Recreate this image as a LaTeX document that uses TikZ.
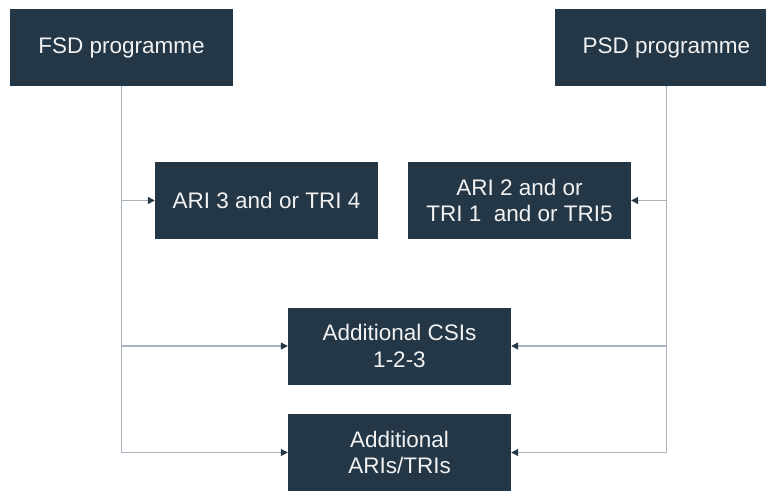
\documentclass[tikz,border=0pt]{standalone}
\usepackage{fontspec}
\setmainfont{Liberation Sans}
\usetikzlibrary{arrows.meta}

\definecolor{boxnavy}{HTML}{243746}
\definecolor{linegrey}{HTML}{A8B2BC}
\definecolor{boxtext}{HTML}{F2F2F2}

\tikzset{
    progbox/.style={fill=boxnavy, text=boxtext, minimum width=223pt, minimum height=77pt,
        inner sep=0pt, align=center, font=\fontsize{22.5}{26.5}\selectfont},
    feed/.style={draw=linegrey, line width=1.2pt, -{Triangle[length=7pt,width=7pt,color=boxnavy]}}
}

\begin{document}
\begin{tikzpicture}[x=1pt,y=-1pt]
    \clip (0,0) rectangle (766,491);

    \node[progbox] (fsd) at (121.5,47.5) {FSD programme};
    \node[progbox] (psd) at (666.5,47.5) {PSD programme};

    \node[progbox] (ari3) at (266.5,200.5) {ARI 3 and or TRI 4};
    \node[progbox] (ari2) at (519.5,200.5) {ARI 2 and or\\TRI 1\ \ and or TRI5};

    \node[progbox] (csi) at (399.5,346) {Additional CSIs\\1-2-3};
    \node[progbox] (extra) at (399.5,452.5) {Additional\\ARIs/TRIs};

    % left branch
    \draw[feed] (fsd.south) |- (ari3.west);
    \draw[feed] (fsd.south) |- (csi.west);
    \draw[feed] (fsd.south) |- (extra.west);

    % right branch
    \draw[feed] (psd.south) |- (ari2.east);
    \draw[feed] (psd.south) |- (csi.east);
    \draw[feed] (psd.south) |- (extra.east);
\end{tikzpicture}
\end{document}
